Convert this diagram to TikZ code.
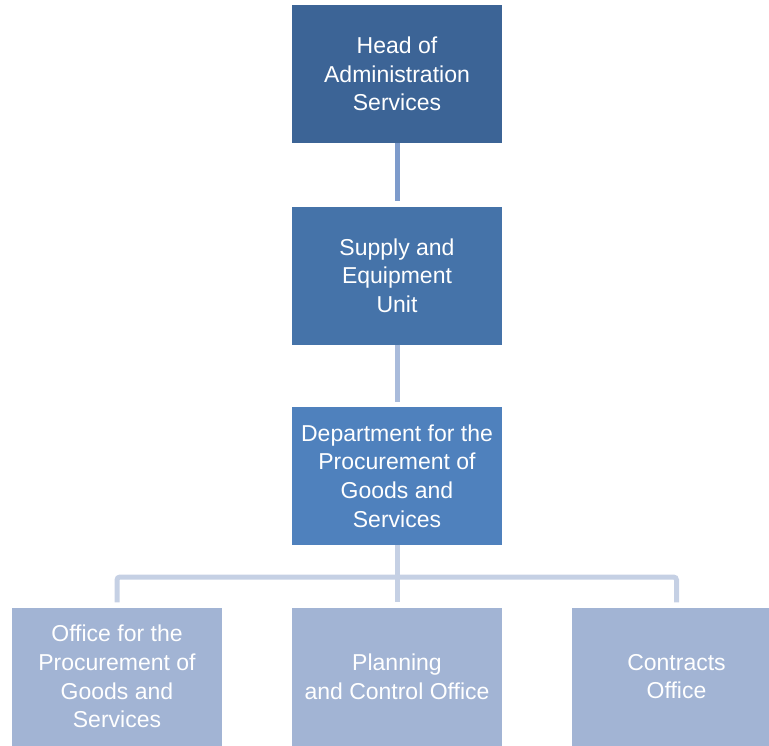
\documentclass[tikz,border=0pt]{standalone}
\usepackage{fontspec}
\setmainfont{Liberation Sans}
\definecolor{cA}{HTML}{3C6496}
\definecolor{cB}{HTML}{4573A9}
\definecolor{cC}{HTML}{4F81BD}
\definecolor{cD}{HTML}{A2B4D4}
\definecolor{lA}{HTML}{7D9BCB}
\definecolor{lB}{HTML}{A9BBDB}
\definecolor{lC}{HTML}{C5D0E4}
\tikzset{
  orgbox/.style={rectangle, minimum width=210pt, minimum height=138pt, inner sep=0pt,
    text=white, align=center, font=\fontsize{23pt}{28.7pt}\selectfont},
  link/.style={line width=5pt},
}
\begin{document}
\begin{tikzpicture}[x=1pt,y=-1pt]
\useasboundingbox (0,0) rectangle (769,745);
\clip (0,0) rectangle (769,745);
\node[orgbox, fill=cA] (b1) at (397,74) {Head of\\Administration\\Services};
\node[orgbox, fill=cB] (b2) at (397,275.5) {Supply and\\Equipment\\Unit};
\node[orgbox, fill=cC] (b3) at (397,476) {Department for the\\Procurement of\\Goods and\\Services};
\node[orgbox, fill=cD] (b4) at (117,676.5) {Office for the\\Procurement of\\Goods and\\Services};
\node[orgbox, fill=cD] (b5) at (397,676.5) {Planning\\and Control Office};
\node[orgbox, fill=cD] (b6) at (676.5,676.5) {Contracts\\Office};
\coordinate (bus) at (397,577);
\draw[link, lA] (b1.south) -- ([yshift=5pt]b2.north);
\draw[link, lB] (b2.south) -- ([yshift=5pt]b3.north);
\draw[link, lC, rounded corners=3pt] ([yshift=5pt]b4.north) |- (bus) -| ([yshift=5pt]b6.north);
\draw[link, lC] (b3.south) -- ([yshift=5pt]b5.north);
\end{tikzpicture}
\end{document}
